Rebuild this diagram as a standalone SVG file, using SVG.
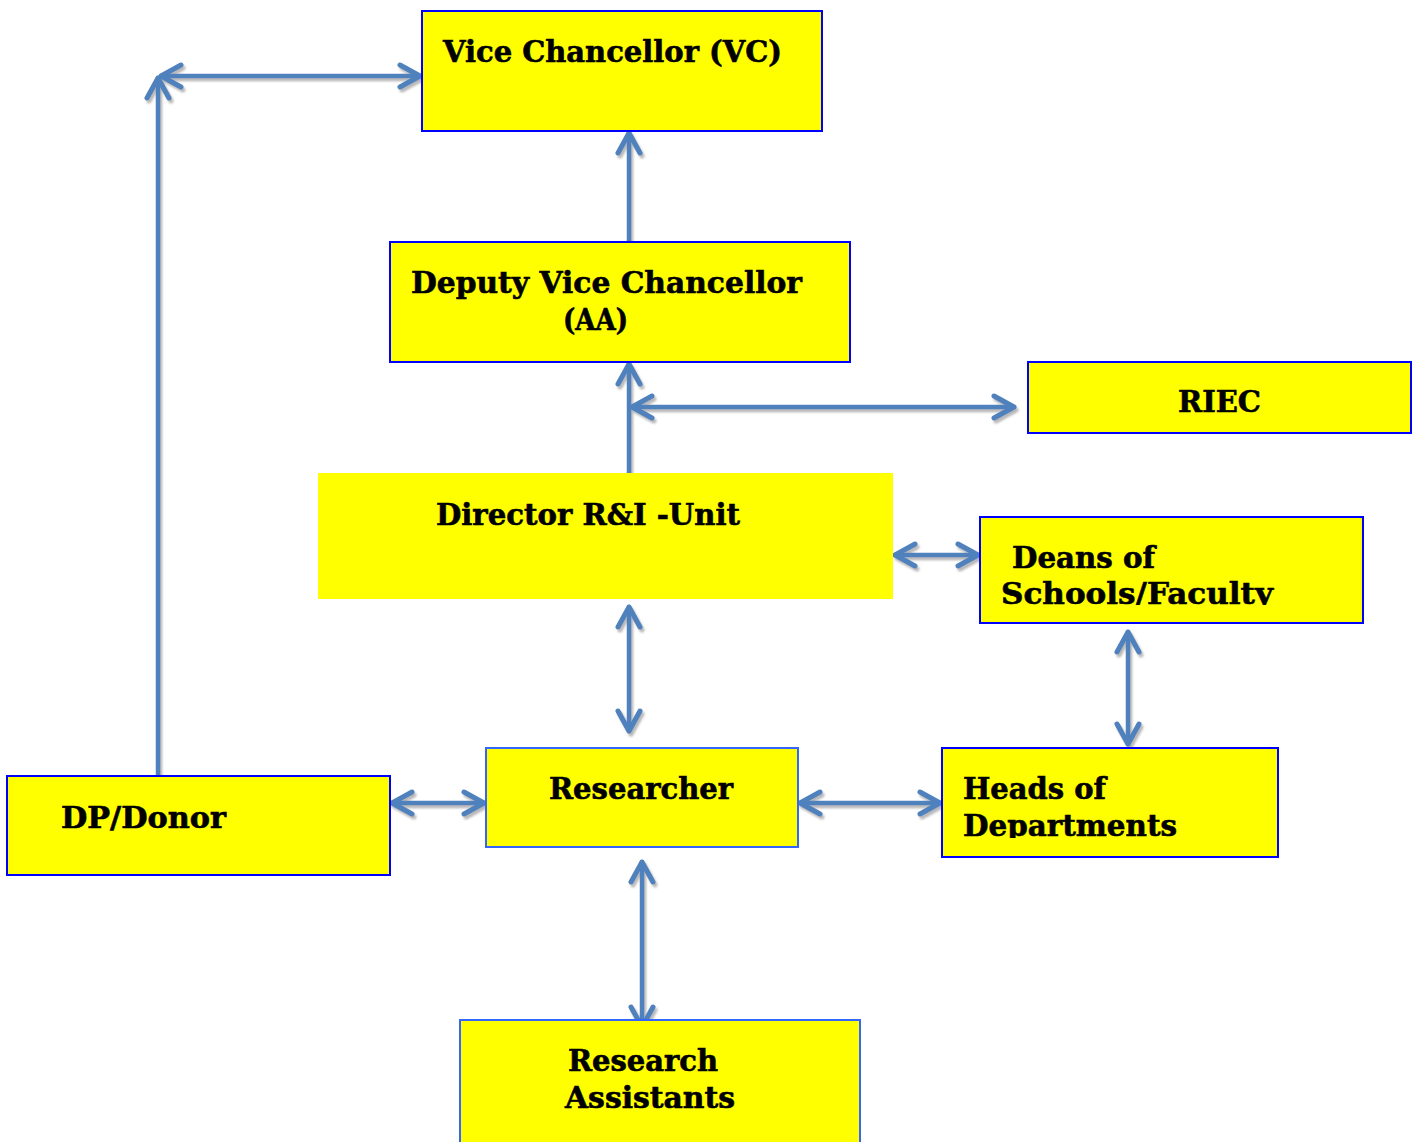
<svg xmlns="http://www.w3.org/2000/svg" width="1419" height="1142" viewBox="0 0 1419 1142">
<style>
.box{fill:#ffff00;stroke:#0000ff;stroke-width:2}
.box2{fill:#ffff00;stroke:#3366ff;stroke-width:2}
.t{font-family:"DejaVu Serif","Liberation Serif",serif;font-weight:bold;font-size:29px;fill:#000;stroke:#000;stroke-width:0.6}
.c{fill:none;stroke:#4f81bd;stroke-width:4.5;stroke-linecap:round;stroke-linejoin:round}
</style>
<defs>
<marker id="ah" markerUnits="userSpaceOnUse" markerWidth="30" markerHeight="30" viewBox="-24 -15 30 30" refX="0" refY="0" orient="auto-start-reverse" overflow="visible">
<path d="M-20,-11 L0,0 L-20,11" fill="none" stroke="#4f81bd" stroke-width="5" stroke-linecap="round" stroke-linejoin="round"/>
</marker>
<filter id="sh" x="-10%" y="-10%" width="120%" height="120%">
<feDropShadow dx="2" dy="3" stdDeviation="0.8" flood-color="#888" flood-opacity="0.6"/>
</filter>
<clipPath id="clipDeans"><rect x="980" y="517" width="383" height="88"/></clipPath>
<clipPath id="clipHeads"><rect x="942" y="748" width="336" height="90"/></clipPath>
</defs>

<g id="connectors" filter="url(#sh)">
<path class="c" d="M158,776 V78" marker-end="url(#ah)"/>
<path class="c" d="M161,76 H420" marker-start="url(#ah)" marker-end="url(#ah)"/>
<path class="c" d="M629,242 V133" marker-end="url(#ah)"/>
<path class="c" d="M629,473 V364" marker-end="url(#ah)"/>
<path class="c" d="M632,407 H1014" marker-start="url(#ah)" marker-end="url(#ah)"/>
<path class="c" d="M895,555 H978" marker-start="url(#ah)" marker-end="url(#ah)"/>
<path class="c" d="M629,607 V731" marker-start="url(#ah)" marker-end="url(#ah)"/>
<path class="c" d="M1128,632 V744" marker-start="url(#ah)" marker-end="url(#ah)"/>
<path class="c" d="M392,803 H484" marker-start="url(#ah)" marker-end="url(#ah)"/>
<path class="c" d="M800,803 H940" marker-start="url(#ah)" marker-end="url(#ah)"/>
<path class="c" d="M642,862 V1027" marker-start="url(#ah)" marker-end="url(#ah)"/>
</g>

<g id="vc">
<rect class="box" x="422" y="11" width="400" height="120"/>
<text class="t" x="443" y="62" textLength="339" lengthAdjust="spacingAndGlyphs">Vice Chancellor (VC)</text>
</g>
<g id="dvc">
<rect class="box" x="390" y="242" width="460" height="120"/>
<text class="t" x="411" y="293" textLength="391" lengthAdjust="spacingAndGlyphs">Deputy Vice Chancellor</text>
<text class="t" x="563" y="330" textLength="65" lengthAdjust="spacingAndGlyphs">(AA)</text>
</g>
<g id="riec">
<rect class="box" x="1028" y="362" width="383" height="71"/>
<text class="t" x="1178" y="412" textLength="83" lengthAdjust="spacingAndGlyphs">RIEC</text>
</g>
<g id="director">
<rect x="318" y="473" width="575" height="126" fill="#ffff00"/>
<text class="t" x="436" y="525" textLength="304" lengthAdjust="spacingAndGlyphs">Director R&amp;I -Unit</text>
</g>
<g id="deans">
<rect class="box" x="980" y="517" width="383" height="106"/>
<g clip-path="url(#clipDeans)">
<text class="t" x="1012" y="568" textLength="143" lengthAdjust="spacingAndGlyphs">Deans of</text>
<text class="t" x="1001" y="604" textLength="272" lengthAdjust="spacingAndGlyphs">Schools/Faculty</text>
</g>
</g>
<g id="researcher">
<rect class="box2" x="486" y="748" width="312" height="99"/>
<text class="t" x="549" y="799" textLength="184" lengthAdjust="spacingAndGlyphs">Researcher</text>
</g>
<g id="heads">
<rect class="box" x="942" y="748" width="336" height="109"/>
<g clip-path="url(#clipHeads)">
<text class="t" x="963" y="799" textLength="143" lengthAdjust="spacingAndGlyphs">Heads of</text>
<text class="t" x="963" y="836" textLength="214" lengthAdjust="spacingAndGlyphs">Departments</text>
</g>
</g>
<g id="donor">
<rect class="box" x="7" y="776" width="383" height="99"/>
<text class="t" x="61" y="828" textLength="165" lengthAdjust="spacingAndGlyphs">DP/Donor</text>
</g>
<g id="ra">
<rect class="box2" x="460" y="1020" width="400" height="130"/>
<text class="t" x="568" y="1071" textLength="150" lengthAdjust="spacingAndGlyphs">Research</text>
<text class="t" x="565" y="1108" textLength="170" lengthAdjust="spacingAndGlyphs">Assistants</text>
</g>
</svg>
